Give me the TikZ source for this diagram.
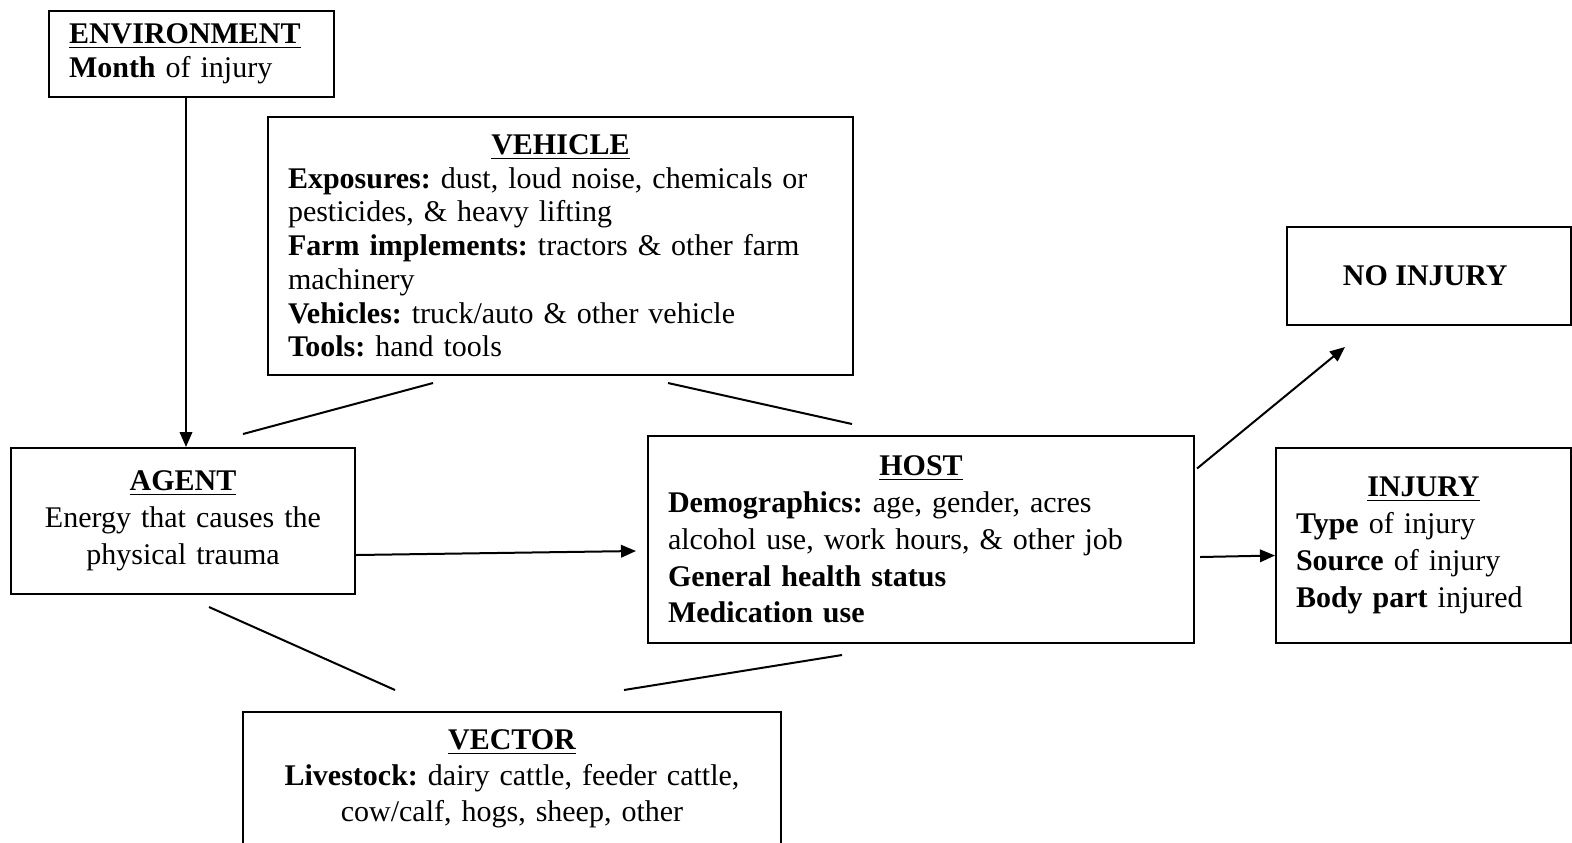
\documentclass[tikz,border=0pt]{standalone}
\usepackage{fontspec}
\setmainfont{Liberation Serif}
\usepackage{tikz}
\usetikzlibrary{arrows.meta, positioning, calc}

\newcommand{\boxhead}[1]{\hfill\textbf{\underline{#1}}\hfill\null}
\frenchspacing

\begin{document}
\begin{tikzpicture}[x=0.4pt, y=-0.4pt,
    box/.style={draw, line width=0.8pt, anchor=north west, inner xsep=8pt,
                inner ysep=0pt},
    link/.style={line width=0.8pt},
    arr/.style={line width=0.8pt, -{Triangle[length=6pt, width=5pt]}}
]
    \useasboundingbox (0,0) rectangle (1572,842);

    \node[box, minimum width=114pt, minimum height=34.4pt, text width=98pt,
          align=left, font=\fontsize{12}{13.6}\selectfont] (env) at (48,10) {
        \textbf{\underline{ENVIRONMENT}}\\
        \textbf{Month} of injury
    };
    \node[box, minimum width=234pt, minimum height=103.2pt, text width=218pt,
          align=left, font=\fontsize{12}{13.5}\selectfont] (vehicle) at (267,116) {
        \boxhead{VEHICLE}\\
        \textbf{Exposures:} dust, loud noise, chemicals or\\
        pesticides, \& heavy lifting\\
        \textbf{Farm implements:} tractors \& other farm\\
        machinery\\
        \textbf{Vehicles:} truck/auto \& other vehicle\\
        \textbf{Tools:} hand tools
    };
    \node[box, minimum width=137.6pt, minimum height=58.4pt, text width=121.6pt,
          align=center, font=\fontsize{12}{14.8}\selectfont] (agent) at (10,447) {
        \textbf{\underline{AGENT}}\\
        Energy that causes the\\
        physical trauma
    };
    \node[box, minimum width=218.4pt, minimum height=82.8pt, text width=202.4pt,
          align=left, font=\fontsize{12}{14.7}\selectfont] (host) at (647,435) {
        \boxhead{HOST}\\
        \textbf{Demographics:} age, gender, acres\\
        alcohol use, work hours, \& other job\\
        \textbf{General health status}\\
        \textbf{Medication use}
    };
    \node[box, minimum width=113.6pt, minimum height=39.2pt, align=center,
          font=\fontsize{12}{14}\selectfont] (noinjury) at (1286,226) {
        \textbf{NO INJURY}
    };
    \node[box, minimum width=118pt, minimum height=78pt, text width=102pt,
          align=left, font=\fontsize{12}{14.8}\selectfont] (injury) at (1275,447) {
        \boxhead{INJURY}\\
        \textbf{Type} of injury\\
        \textbf{Source} of injury\\
        \textbf{Body part} injured
    };
    \node[box, minimum width=215.2pt, minimum height=53.6pt, text width=199.2pt,
          align=center, font=\fontsize{12}{14.4}\selectfont] (vector) at (242,711) {
        \textbf{\underline{VECTOR}}\\
        \textbf{Livestock:} dairy cattle, feeder cattle,\\
        cow/calf, hogs, sheep, other
    };

    \coordinate (agenttop) at ($(agent.north)+(3,0)$);
    \coordinate (agentup) at (243,434);
    \coordinate (vehicleleft) at (433,383);
    \coordinate (vehicleright) at (668,383);
    \coordinate (hostup) at (852,424);
    \coordinate (agentdown) at (209,607);
    \coordinate (vectorleft) at (395,690);
    \coordinate (hostdown) at (842,655);
    \coordinate (vectorright) at (624,690);
    \coordinate (hostin) at (636,551);
    \coordinate (noinjuryin) at (1345,347);
    \coordinate (injuryout) at (1200,557);

    \draw[arr] (agenttop |- env.south) -- (agenttop);
    \draw[link] (agentup) -- (vehicleleft);
    \draw[link] (vehicleright) -- (hostup);
    \draw[link] (agentdown) -- (vectorleft);
    \draw[link] (hostdown) -- (vectorright);
    \draw[arr] ($(agent.east)+(0,34)$) -- (hostin);
    \draw[arr] ($(host.east)+(2,-71)$) -- (noinjuryin);
    \draw[arr] (injuryout) -- ($(injury.west)+(0,10)$);
\end{tikzpicture}
\end{document}
